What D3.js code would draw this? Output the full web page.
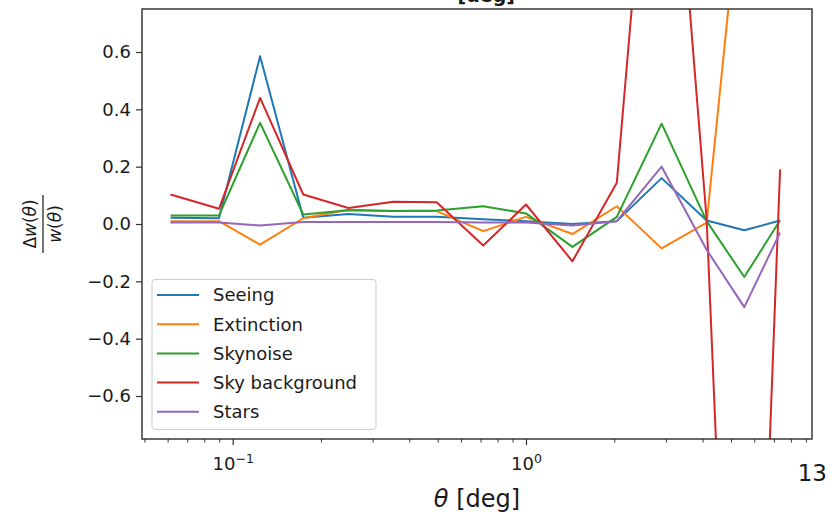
<!DOCTYPE html>
<html><head><meta charset="utf-8">
<script src="https://cdn.jsdelivr.net/npm/d3@7"></script>
<style>body{margin:0;background:#fff} svg{display:block} text{font-family:"DejaVu Sans",sans-serif;fill:#1a1a1a}</style>
</head><body><svg id="c" width="837" height="518"></svg>
<script>
// ---- data ----
const theta = [0.0614, 0.0898, 0.124, 0.174, 0.248, 0.353, 0.496, 0.715, 1.0, 1.44, 2.04, 2.9, 4.13, 5.55, 7.35];
const seeing = [0.022, 0.02, 0.585, 0.022, 0.035, 0.025, 0.025, 0.017, 0.01, 0.0, 0.01, 0.16, 0.012, -0.022, 0.012];
const extinction = [0.01, 0.01, -0.072, 0.02, 0.05, 0.045, 0.045, -0.025, 0.025, -0.035, 0.062, -0.085, 0.005, 1.3, 1.6];
const skynoise = [0.03, 0.03, 0.353, 0.033, 0.048, 0.045, 0.047, 0.062, 0.037, -0.08, 0.025, 0.35, 0.01, -0.185, 0.013];
const skyBackground = [0.103, 0.053, 0.44, 0.103, 0.056, 0.078, 0.076, -0.075, 0.068, -0.13, 0.144, 1.97, 0.015, -3.1, 0.19];
const stars = [0.005, 0.005, -0.005, 0.007, 0.007, 0.007, 0.007, 0.005, 0.005, -0.005, 0.01, 0.2, -0.09, -0.29, -0.03];
const seriesNames = ["Seeing", "Extinction", "Skynoise", "Sky background", "Stars"];
const seriesValues = [seeing, extinction, skynoise, skyBackground, stars];
const colors = ["#1f77b4", "#ff7f0e", "#2ca02c", "#d62728", "#9467bd"];
const yTicks = [-0.6, -0.4, -0.2, 0, 0.2, 0.4, 0.6];
const yTickLabels = ["\u22120.6", "\u22120.4", "\u22120.2", "0.0", "0.2", "0.4", "0.6"];
const xMajorTicks = [0.1, 1];
const xMajorExp = ["\u22121", "0"];
const xMinorTicks = [0.05, 0.06, 0.07, 0.08, 0.09, 0.2, 0.3, 0.4, 0.5, 0.6, 0.7, 0.8, 0.9, 2, 3, 4, 5, 6, 7, 8, 9];

// ---- layout ----
const L = 142, T = 9, R = 812, B = 439;
const svg = d3.select("#c");
const x = d3.scaleLog().domain([0.04907, 9.443]).range([L, R]);
const y = d3.scaleLinear().domain([-0.75, 0.75]).range([B, T]);

// cut-off title
svg.append("text").attr("x", 515).attr("y", 1.5).attr("text-anchor", "end")
  .attr("font-size", 19).attr("font-weight", "bold").text("[deg]");

svg.append("clipPath").attr("id", "clip").append("rect")
  .attr("x", L).attr("y", T).attr("width", R - L).attr("height", B - T);

const line = d3.line().x(d => x(d[0])).y(d => y(d[1]));
const plot = svg.append("g").attr("clip-path", "url(#clip)");
seriesValues.forEach((vals, i) => {
  plot.append("path")
    .datum(theta.map((t, j) => [t, vals[j]]))
    .attr("d", line).attr("fill", "none")
    .attr("stroke", colors[i]).attr("stroke-width", 2)
    .attr("stroke-linejoin", "round");
});

// axes
const tickColor = "#333";
const gyAxis = svg.append("g").attr("transform", `translate(${L},0)`)
  .call(d3.axisLeft(y).tickValues(yTicks).tickSize(6).tickPadding(5)
    .tickFormat((d, i) => yTickLabels[i]));
gyAxis.select(".domain").remove();
gyAxis.selectAll("line").attr("stroke", tickColor).attr("stroke-width", 1.2);
gyAxis.selectAll("text").attr("font-size", 18).attr("fill", "#1a1a1a").attr("font-family", "DejaVu Sans");

const gxMinor = svg.append("g").attr("transform", `translate(0,${B})`)
  .call(d3.axisBottom(x).tickValues(xMinorTicks).tickSize(3.5).tickFormat(""));
gxMinor.select(".domain").remove();
gxMinor.selectAll("line").attr("stroke", tickColor).attr("stroke-width", 1);

const gxAxis = svg.append("g").attr("transform", `translate(0,${B})`)
  .call(d3.axisBottom(x).tickValues(xMajorTicks).tickSize(6).tickPadding(8).tickFormat(() => ""));
gxAxis.select(".domain").remove();
gxAxis.selectAll("line").attr("stroke", tickColor).attr("stroke-width", 1.2);
gxAxis.selectAll(".tick").each(function (d, i) {
  const t = d3.select(this).select("text")
    .attr("font-size", 18).attr("fill", "#1a1a1a").attr("font-family", "DejaVu Sans")
    .attr("y", 18).attr("dy", "0.71em");
  t.append("tspan").text("10");
  t.append("tspan").attr("font-size", 12.5).attr("dy", "-0.55em").text(xMajorExp[i]);
});

// frame
svg.append("rect").attr("x", L).attr("y", T).attr("width", R - L).attr("height", B - T)
  .attr("fill", "none").attr("stroke", "#2b2b2b").attr("stroke-width", 1.4);

// legend
const lg = svg.append("g");
lg.append("rect").attr("x", 152).attr("y", 279.5).attr("width", 224).attr("height", 150)
  .attr("rx", 3).attr("fill", "#fff").attr("fill-opacity", 0.8).attr("stroke", "#cccccc").attr("stroke-width", 1);
seriesNames.forEach((name, i) => {
  const yy = 295 + i * 29.2;
  lg.append("line").attr("x1", 157).attr("x2", 199).attr("y1", yy).attr("y2", yy)
    .attr("stroke", colors[i]).attr("stroke-width", 2);
  lg.append("text").attr("x", 213).attr("y", yy).attr("dy", "0.35em")
    .attr("font-size", 18).text(name);
});

// x label
const xl = svg.append("text").attr("x", 477).attr("y", 507).attr("text-anchor", "middle").attr("font-size", 24);
xl.append("tspan").attr("font-style", "italic").text("\u03b8");
xl.append("tspan").text(" [deg]");

// y label (fraction)
const yl = svg.append("g").attr("transform", "translate(43,224) rotate(-90)");
const num = yl.append("text").attr("x", 0).attr("y", -7).attr("text-anchor", "middle").attr("font-size", 17);
num.append("tspan").text("\u0394");
num.append("tspan").attr("font-style", "italic").text("w");
num.append("tspan").text("(");
num.append("tspan").attr("font-style", "italic").text("\u03b8");
num.append("tspan").text(")");
yl.append("line").attr("x1", -29).attr("x2", 29).attr("y1", 0).attr("y2", 0)
  .attr("stroke", "#1a1a1a").attr("stroke-width", 1.2);
const den = yl.append("text").attr("x", 0).attr("y", 18).attr("text-anchor", "middle").attr("font-size", 17);
den.append("tspan").attr("font-style", "italic").text("w");
den.append("tspan").text("(");
den.append("tspan").attr("font-style", "italic").text("\u03b8");
den.append("tspan").text(")");

// stray label at lower right
svg.append("text").attr("x", 827).attr("y", 481).attr("text-anchor", "end").attr("font-size", 23).text("13");
</script></body></html>
